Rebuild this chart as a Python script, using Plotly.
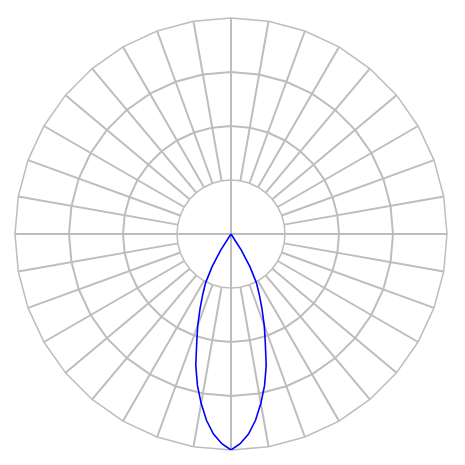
import plotly.graph_objects as go

# spokes of the photometric grid, every 10 degrees
spokes = [str(a) for a in range(0, 360, 10)]

# luminous intensity curve (relative, 0 deg = nadir)
angles = [-35, -32.5, -30, -27.5, -25, -22.5, -20, -17.5, -15, -12.5, -10, -7.5, -5, -2.5,
          0, 2.5, 5, 7.5, 10, 12.5, 15, 17.5, 20, 22.5, 25, 27.5, 30, 32.5, 35]
intensity = [0, 9, 17.6, 25.5, 31, 37.5, 45, 52.8, 63, 71.8, 79.6, 87, 93, 97.2,
             100, 97.2, 93, 87, 79.6, 71.8, 63, 52.8, 45, 37.5, 31, 25.5, 17.6, 9, 0]

grid = "#bdbdbd"

fig = go.Figure()

# invisible trace just to register the grid categories
fig.add_trace(go.Scatterpolar(
    r=[0] * len(spokes), theta=spokes, mode="markers",
    marker=dict(opacity=0), hoverinfo="skip", showlegend=False, subplot="polar"
))

fig.add_trace(go.Scatterpolar(
    r=intensity, theta=angles, mode="lines",
    line=dict(color="#0000ff", width=1.6), showlegend=False, subplot="polar2"
))

fig.update_layout(
    width=465, height=465,
    margin=dict(l=7, r=26, t=10, b=23),
    paper_bgcolor="white",
    showlegend=False,
    polar=dict(
        domain=dict(x=[0, 1], y=[0, 1]),
        hole=0.25,
        gridshape="linear",
        bgcolor="white",
        radialaxis=dict(range=[0, 3], dtick=1, showticklabels=False, ticks="",
                        showline=False, gridcolor=grid, gridwidth=1.5),
        angularaxis=dict(type="category", categoryarray=spokes, direction="clockwise",
                         rotation=90, showticklabels=False, ticks="",
                         showline=True, linecolor=grid, linewidth=1.5,
                         gridcolor=grid, gridwidth=1.5),
    ),
    polar2=dict(
        domain=dict(x=[0, 1], y=[0, 1]),
        bgcolor="rgba(0,0,0,0)",
        radialaxis=dict(range=[0, 100], visible=False),
        angularaxis=dict(rotation=-90, direction="counterclockwise", dtick=90,
                         showticklabels=False, ticks="", showline=False,
                         gridcolor=grid, gridwidth=1.5),
    ),
)

fig.write_html("out.html")
